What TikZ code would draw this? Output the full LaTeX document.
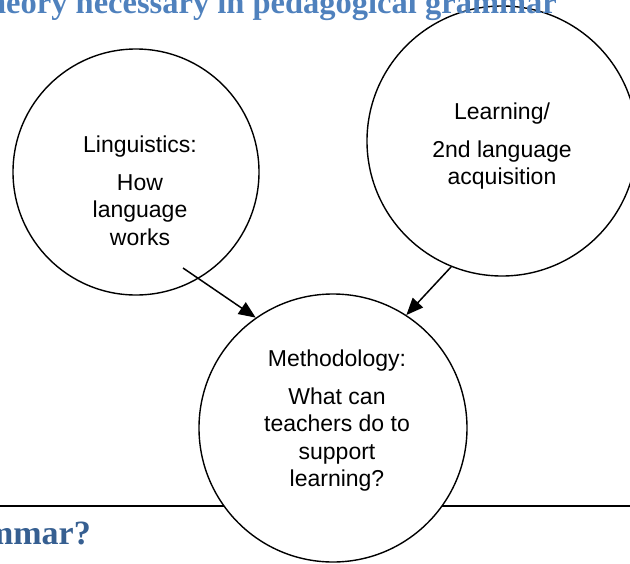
\documentclass[tikz,border=0pt]{standalone}
\usepackage{fontspec}
\setmainfont{Liberation Serif}
\newfontfamily\labelfont{Liberation Sans}
\usepackage{tikz}
\usetikzlibrary{positioning,arrows.meta}
\definecolor{headblue}{HTML}{4F81BD}
\definecolor{titleblue}{HTML}{365F91}

\begin{document}
\begin{tikzpicture}[x=1pt,y=-1pt,
    bubble/.style={draw,circle,line width=1.4pt,fill=white,inner sep=0pt},
    bubtext/.style={anchor=north,align=center,inner sep=0pt,
      font=\labelfont\fontsize{23}{27.3}\selectfont},
    link/.style={line width=1.5pt,-{Triangle[length=17pt,width=14pt]}},
    heading/.style={inner sep=0pt,anchor=base east}]
  \useasboundingbox (0,0) rectangle (630,563);
  \clip (0,0) rectangle (630,563);
  \draw[line width=2pt] (0,506) -- (630,506);
  \node[bubble,minimum size=246pt] (ling) at (136,172) {};
  \node[bubble,minimum size=270pt] (learn) at (502,141) {};
  \node[bubble,minimum size=268pt] (method) at (333,428) {};
  \node[bubtext] (lingtxt) at (140,135.5) {Linguistics:\\[11pt] How\\ language\\ works};
  \node[bubtext] (learntxt) at (502,102.5) {Learning/\\[11pt] 2nd language\\ acquisition};
  \node[bubtext] (methodtxt) at (337,349.5) {Methodology:\\[11pt] What can\\ teachers do to\\ support\\ learning?};
  \coordinate (lingtail) at (183,268);
  \draw[link] (lingtail) -- (method.125);
  \draw[link] (learn.248) -- (method.57);
  \node[heading,text=headblue,font=\bfseries\fontsize{32.5}{36}\selectfont] (toptitle) at (557,13)
    {theory necessary in pedagogical grammar};
  \node[heading,text=titleblue,font=\bfseries\fontsize{34}{38}\selectfont] (lowtitle) at (91,544)
    {grammar?};
\end{tikzpicture}
\end{document}
